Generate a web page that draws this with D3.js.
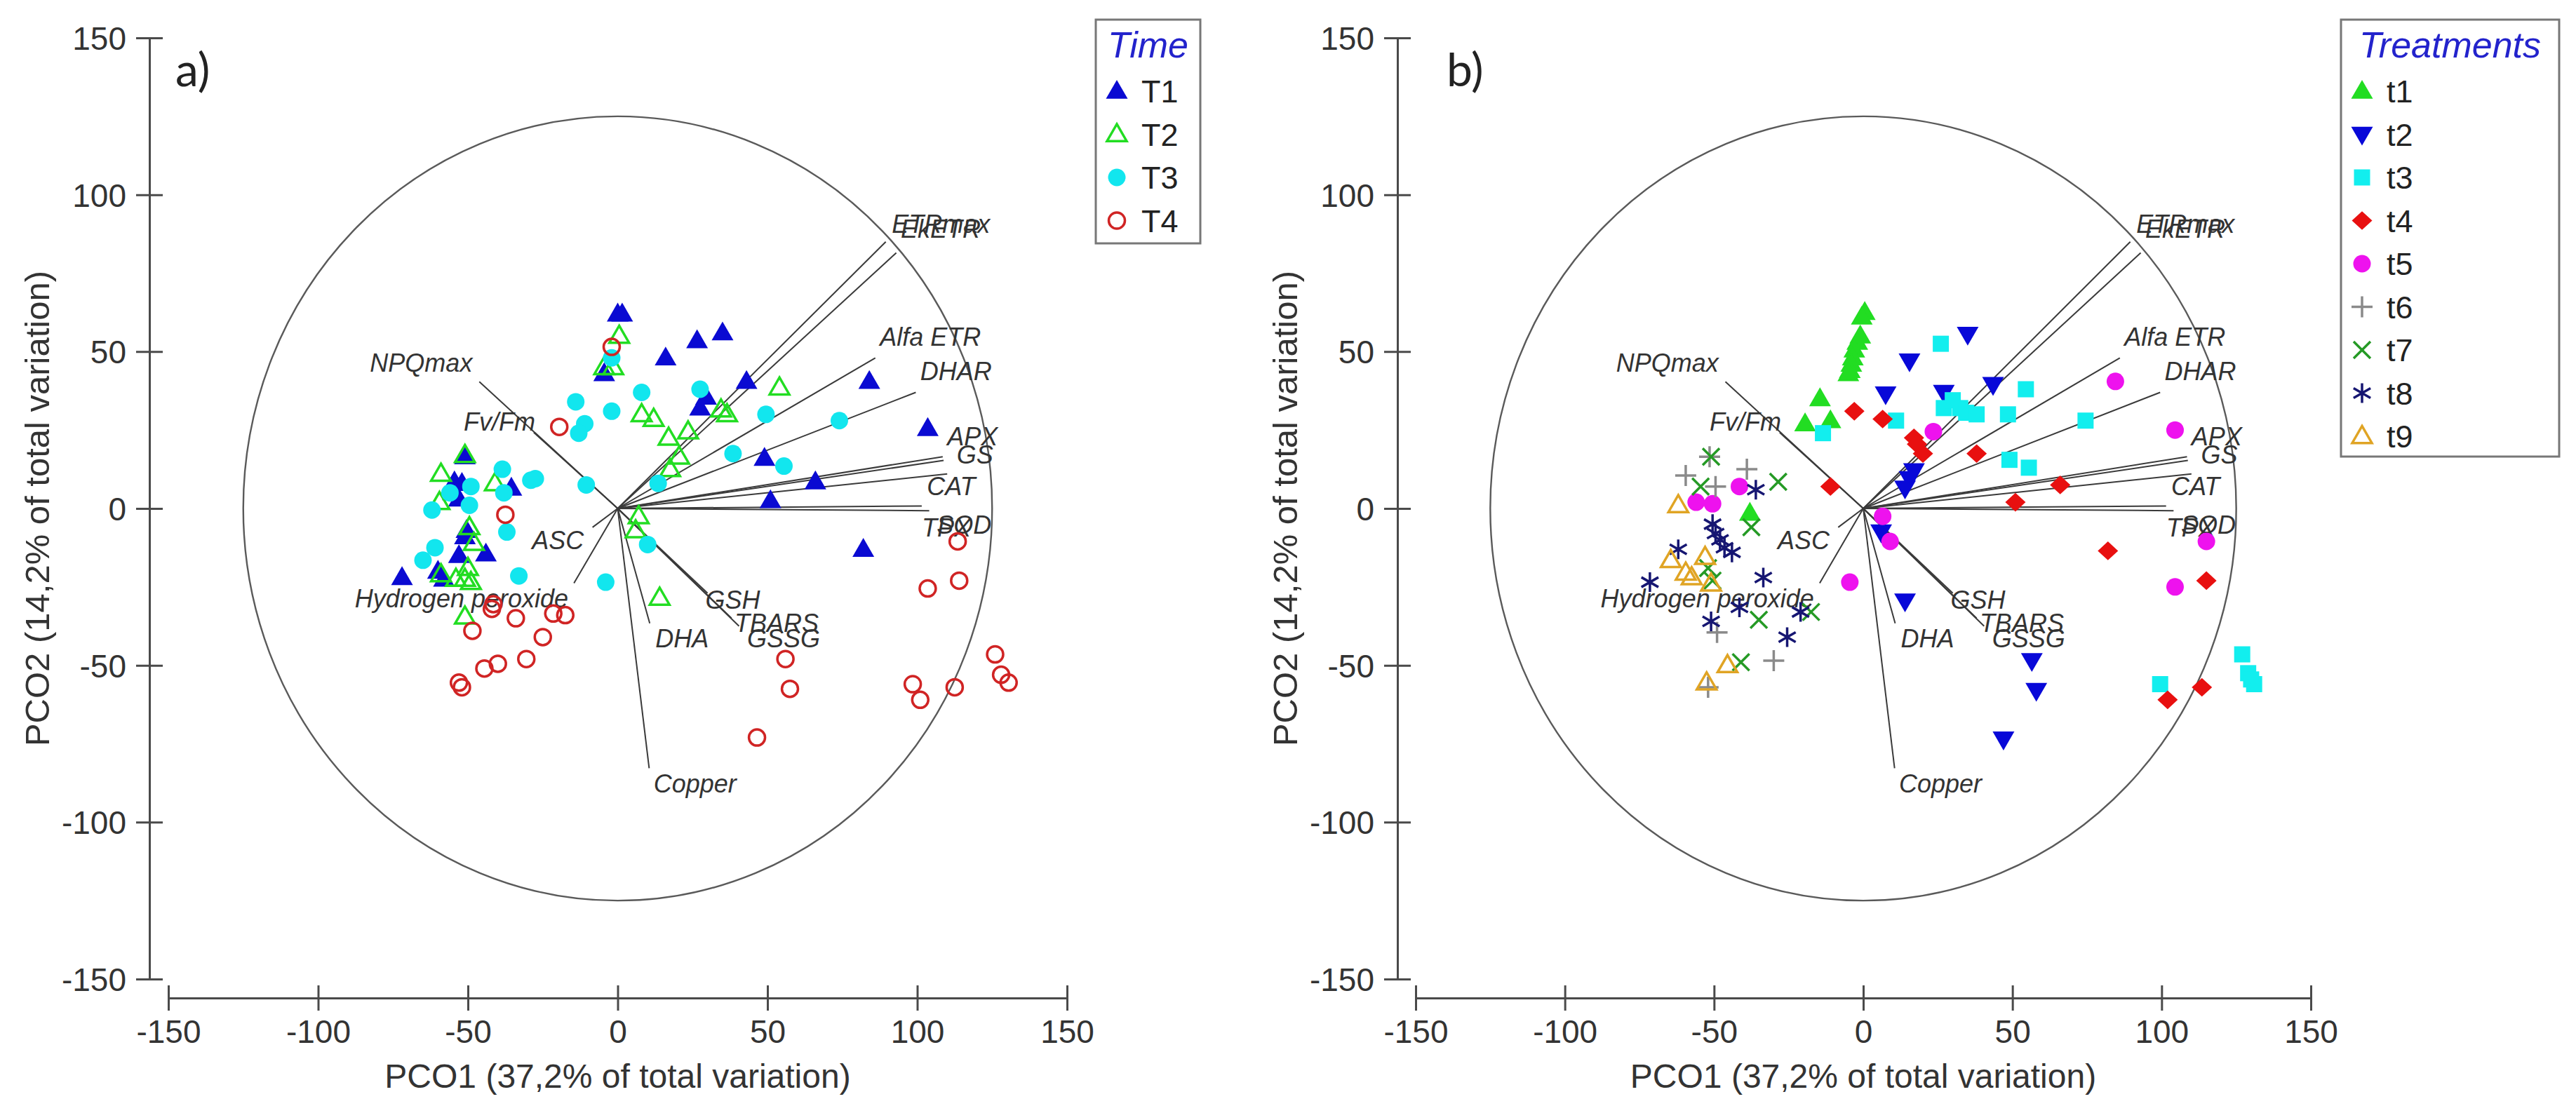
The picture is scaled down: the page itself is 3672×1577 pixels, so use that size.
<!DOCTYPE html>
<html><head><meta charset="utf-8">
<script src="https://cdn.jsdelivr.net/npm/d3@7/dist/d3.min.js"></script>
<style>html,body{margin:0;padding:0;background:#fff}svg{display:block}</style>
</head><body>
<svg id="chart" width="3672" height="1577"></svg>
<script>
// ---------- DATA ----------
const axisTicks = [-150, -100, -50, 0, 50, 100, 150];
const circleRadius = 125;
const xTitle = "PCO1 (37,2% of total variation)";
const yTitle = "PCO2 (14,2% of total variation)";

const vectorNames = ["ETRmax","EkETR","Alfa ETR","DHAR","APX","GS","CAT","TPX","SOD","GSSG","TBARS","GSH","DHA","Copper","Hydrogen peroxide","ASC","Fv/Fm","NPQmax"];
const vectorX = [89.5, 93, 86, 99.5, 108.5, 108.8, 110, 101.5, 104, 40.5, 38, 30, 10.7, 10.5, -14.6, -8.4, -28, -46.2];
const vectorY = [85, 81.5, 48, 37, 16.5, 15.3, 11, 0.8, -0.7, -37.5, -35, -27, -36.6, -82.8, -23.8, -6, 24.2, 40.4];
// label anchor positions (data units)
const labelX = [91.5, 94.5, 87.5, 101, 110, 113.2, 103.2, 101.5, 106.5, 43.2, 39, 29.3, 12.6, 12, -16.5, -11.3, -27.5, -48.5];
const labelY = [87.8, 86.2, 51.9, 40.8, 20.2, 14.3, 4.2, -9, -8, -44.3, -39.3, -32, -44.3, -90.5, -31.6, -12.9, 24.9, 43.6];

// Panel a: Time
const timeLabels = ["T1","T2","T3","T4"];
const T1 = [[0,62],[1.5,62],[-4.5,43],[16,48],[26.5,53.5],[35,56],[43,40.5],[27.5,32],[29.5,35.5],[49,16],[66,8.5],[51,2.5],[84,40.5],[103.5,25.5],[82,-13],[-51,16.5],[-54.5,8.5],[-52,8],[-55,5],[-53,3],[-35.5,6.5],[-50.5,-7],[-51,-9],[-44,-14.5],[-53,-15],[-72,-22],[-60,-20],[-58,-22.5]];
const T2 = [[0.5,55],[-4.5,45],[-1.5,45],[8,30],[12,28.5],[17,22.5],[23.5,24.5],[20.5,16.5],[17.5,12.5],[34.5,31.5],[36.5,30],[54,38.5],[7,-2.5],[6,-7],[14,-28.5],[-51,17],[-59,11],[-41,8],[-59.5,2],[-49.5,-6],[-48,-11],[-59,-21],[-54,-22.5],[-51,-22.5],[-49,-23.5],[-51,-34.5],[-50,-19]];
const T3 = [[-2,48],[-14,34],[-2,31],[-11,27],[-13,24],[8,37],[27.5,38],[49.5,30],[38.5,17.5],[55.5,13.5],[74,28],[13.5,8],[-10.5,7.5],[-27.5,9.5],[-29,9],[-38.5,12.5],[-49,7],[-62,-0.5],[-38,5],[-37,-7.5],[-49.5,1],[-61,-12.5],[-65,-16.5],[-33,-21.5],[-4,-23.5],[10,-11.5],[-56,5]];
const T4 = [[-2,51.5],[-19.5,26],[-37.5,-2],[-42,-32],[-41.5,-30.5],[-34,-35],[-21.5,-33.5],[-17.5,-34],[-48.5,-39],[-25,-41],[-30.5,-48],[-40,-49.5],[-44.5,-51],[-53,-55.5],[-52,-57],[56,-48],[57.5,-57.5],[46.5,-73],[113.5,-10.5],[103.5,-25.5],[114,-23],[98.5,-56],[101,-61],[112.5,-57],[126,-46.5],[128,-53],[130.5,-55.5]];

// Panel b: Treatments
const treatmentLabels = ["t1","t2","t3","t4","t5","t6","t7","t8","t9"];
const t1 = [[0.5,62.5],[-0.5,61],[-1,55],[-2,53],[-3,50.5],[-3.5,48],[-4,46],[-4.5,44],[-5,43],[-14.5,35],[-19.5,27],[-11,28],[-38,-1.5]];
const t2 = [[35,55.5],[15.5,47],[7.5,36.5],[27,37],[43.5,39.5],[17,12],[15.5,9.5],[14,6.5],[6,-7.5],[14,-29.5],[56.5,-48.5],[58,-58],[47,-73.5]];
const t3 = [[26,52.5],[54.5,38],[27,32],[30,34.5],[32.5,32],[34.5,30.5],[38,30],[48.5,30],[11,28],[-13.5,24],[49,15.5],[55.5,13],[74.5,28],[127,-46.5],[129,-52.5],[130,-54.5],[131,-56],[99.5,-56]];
const t4 = [[-3,31],[6.5,28.5],[17,22.5],[18,20.5],[20,17.5],[38,17.5],[-11,7],[66,7.5],[51,2],[82,-13.5],[115,-23],[113.5,-57],[102,-61]];
const t5 = [[23.5,24.5],[6.5,-2.5],[9,-10.5],[-4.5,-23.5],[-41.5,7],[-56,2],[-50.5,1.5],[84.5,40.5],[104.5,25],[115,-10.5],[104.5,-25]];
const t6 = [[-51.5,16.5],[-59.5,10.5],[-39,12.5],[-49.5,7],[-49,-39.5],[-30,-48.5],[-52,-57]];
const t7 = [[-51,16.5],[-54.5,7],[-28.5,8.5],[-37.5,-6],[-52,-19],[-50.5,-23],[-35,-35.5],[-41,-49],[-17.5,-33]];
const t8 = [[-36,6],[-50.5,-5],[-49.5,-8],[-48,-10],[-46.5,-12.5],[-44,-14],[-62,-13],[-71.5,-23.5],[-33.5,-22],[-41.5,-31.5],[-51,-36],[-21,-33],[-25.5,-41]];
const t9 = [[-62,1],[-64.5,-16.5],[-59.5,-20.5],[-57.5,-22],[-53,-15.5],[-51,-24],[-45.5,-50],[-52.5,-55.5]];

// ---------- STYLES ----------
const timeStyles = [
  {shape:"triUp", fill:"#0a0ad2", stroke:"none", sw:0, size:31},
  {shape:"triUp", fill:"none", stroke:"#22dd22", sw:3.5, size:28},
  {shape:"circle", fill:"#12e6ee", stroke:"none", sw:0, size:25},
  {shape:"circle", fill:"none", stroke:"#d02424", sw:3.5, size:23}
];
const treatStyles = [
  {shape:"triUp", fill:"#22dd22", stroke:"none", sw:0, size:31},
  {shape:"triDown", fill:"#0808d8", stroke:"none", sw:0, size:31},
  {shape:"square", fill:"#12eeee", stroke:"none", sw:0, size:23},
  {shape:"diamond", fill:"#e81010", stroke:"none", sw:0, size:29},
  {shape:"circle", fill:"#ee12ee", stroke:"none", sw:0, size:25},
  {shape:"plus", fill:"none", stroke:"#8a8a8a", sw:3.5, size:30},
  {shape:"cross", fill:"none", stroke:"#259a25", sw:3.5, size:24},
  {shape:"asterisk", fill:"none", stroke:"#161672", sw:3.5, size:28},
  {shape:"triUp", fill:"none", stroke:"#e0a424", sw:3.5, size:28}
];

function shapePath(shape, s) {
  const r = s / 2;
  switch (shape) {
    case "triUp": { const h = s * 0.866; return `M0,${-h*0.6}L${r},${h*0.4}L${-r},${h*0.4}Z`; }
    case "triDown": { const h = s * 0.866; return `M0,${h*0.6}L${r},${-h*0.4}L${-r},${-h*0.4}Z`; }
    case "circle": return d3.symbol(d3.symbolCircle, Math.PI * r * r)();
    case "square": return `M${-r},${-r}H${r}V${r}H${-r}Z`;
    case "diamond": { const v = r * 0.92; return `M0,${-v}L${r},0L0,${v}L${-r},0Z`; }
    case "plus": return `M${-r},0H${r}M0,${-r}V${r}`;
    case "cross": return `M${-r},${-r}L${r},${r}M${-r},${r}L${r},${-r}`;
    case "asterisk": {
      let p = `M0,${-r}V${r}`;
      [30, 150].forEach(a => { const c = Math.cos(a*Math.PI/180)*r, d = Math.sin(a*Math.PI/180)*r; p += `M${-c},${-d}L${c},${d}`; });
      return p;
    }
  }
}

const svg = d3.select("#chart");
const axisColor = "#4a4a4a";
const textColor = "#333";
const tickFmt = d => String(d);   // plain hyphen-minus as in the figure

function drawPanel(opt) {
  const x = d3.scaleLinear().domain([-150, 150]).range([opt.x0, opt.x1]);
  const y = d3.scaleLinear().domain([-150, 150]).range([1396, 54]);
  const g = svg.append("g");

  // x axis
  const xa = g.append("g").attr("transform", "translate(0,1423)")
    .call(d3.axisBottom(x).tickValues(axisTicks).tickSizeOuter(0).tickSizeInner(0).tickFormat(tickFmt));
  xa.select(".domain").attr("stroke", axisColor).attr("stroke-width", 3);
  xa.selectAll(".tick line").attr("y1", -18).attr("y2", 18).attr("stroke", axisColor).attr("stroke-width", 3);
  xa.selectAll(".tick text").attr("y", 64).attr("dy", 0).attr("fill", textColor)
    .style("font-family", "'Liberation Sans', Arial, sans-serif").style("font-size", "46px");

  // y axis
  const ya = g.append("g").attr("transform", `translate(${opt.yAxisX},0)`)
    .call(d3.axisLeft(y).tickValues(axisTicks).tickSizeOuter(0).tickSizeInner(0).tickFormat(tickFmt));
  ya.select(".domain").attr("stroke", axisColor).attr("stroke-width", 3);
  ya.selectAll(".tick line").attr("x1", -19).attr("x2", 19).attr("stroke", axisColor).attr("stroke-width", 3);
  ya.selectAll(".tick text").attr("x", -33).attr("dy", "0.36em").attr("fill", textColor)
    .style("font-family", "'Liberation Sans', Arial, sans-serif").style("font-size", "46px");

  // axis titles
  g.append("text").attr("x", x(0)).attr("y", 1551).attr("text-anchor", "middle")
    .attr("fill", textColor).style("font-family", "'Liberation Sans', Arial, sans-serif").style("font-size", "48px")
    .text(xTitle);
  g.append("text").attr("transform", `translate(${opt.yAxisX - 161},${y(0)}) rotate(-90)`)
    .attr("dy", "0.36em").attr("text-anchor", "middle")
    .attr("fill", textColor).style("font-family", "'Liberation Sans', Arial, sans-serif").style("font-size", "49px")
    .text(yTitle);

  // panel label
  g.append("text").attr("x", opt.labelX).attr("y", 123).attr("fill", "#222")
    .style("font-family", "Lato, 'Open Sans', sans-serif").style("font-size", "66px").text(opt.label);

  // circle
  g.append("ellipse").attr("cx", x(0)).attr("cy", y(0))
    .attr("rx", x(circleRadius) - x(0)).attr("ry", y(0) - y(circleRadius))
    .attr("fill", "none").attr("stroke", "#5a5a5a").attr("stroke-width", 2.4);

  // vectors
  const vec = vectorNames.map((n, i) => ({n, vx: vectorX[i], vy: vectorY[i], lx: labelX[i], ly: labelY[i]}));
  g.append("g").selectAll("line").data(vec).join("line")
    .attr("x1", x(0)).attr("y1", y(0)).attr("x2", d => x(d.vx)).attr("y2", d => y(d.vy))
    .attr("stroke", "#3a3a3a").attr("stroke-width", 2);
  g.append("g").selectAll("text").data(vec).join("text")
    .attr("x", d => x(d.lx)).attr("y", d => y(d.ly))
    .attr("text-anchor", d => d.lx < 0 ? "end" : "start")
    .attr("fill", textColor).style("font-family", "'Liberation Sans', Arial, sans-serif")
    .style("font-style", "italic").style("font-size", "36px").text(d => d.n);

  // points
  opt.series.forEach((ser, k) => {
    const st = opt.styles[k];
    g.append("g").selectAll("path").data(ser).join("path")
      .attr("transform", d => `translate(${x(d[0])},${y(d[1])})`)
      .attr("d", shapePath(st.shape, st.size))
      .attr("fill", st.fill).attr("stroke", st.stroke).attr("stroke-width", st.sw);
  });

  // legend
  const L = opt.legend;
  const lg = g.append("g");
  lg.append("rect").attr("x", L.x).attr("y", 28).attr("width", L.w).attr("height", L.h)
    .attr("fill", "#fff").attr("stroke", "#777").attr("stroke-width", 3);
  lg.append("text").attr("x", L.x + L.w / 2).attr("y", 82).attr("text-anchor", "middle")
    .attr("fill", "#2323cc").style("font-family", "'Liberation Sans', Arial, sans-serif")
    .style("font-style", "italic").style("font-size", "52px").text(L.title);
  opt.labels.forEach((lab, i) => {
    const cy = 130 + i * 61.5;
    const st = opt.styles[i];
    lg.append("path").attr("transform", `translate(${L.x + 30},${cy})`)
      .attr("d", shapePath(st.shape, st.size))
      .attr("fill", st.fill).attr("stroke", st.stroke).attr("stroke-width", st.sw);
    lg.append("text").attr("x", L.x + 65).attr("y", cy + 16).attr("fill", "#222")
      .style("font-family", "'Liberation Sans', Arial, sans-serif").style("font-size", "45px").text(lab);
  });
}

drawPanel({x0: 240, x1: 1521, yAxisX: 213, label: "a)", labelX: 250,
  series: [T1, T2, T3, T4], styles: timeStyles, labels: timeLabels,
  legend: {x: 1562, w: 149, h: 319, title: "Time"}});
drawPanel({x0: 2018, x1: 3294, yAxisX: 1992, label: "b)", labelX: 2062,
  series: [t1, t2, t3, t4, t5, t6, t7, t8, t9], styles: treatStyles, labels: treatmentLabels,
  legend: {x: 3337, w: 311, h: 623, title: "Treatments"}});
</script>
</body></html>
